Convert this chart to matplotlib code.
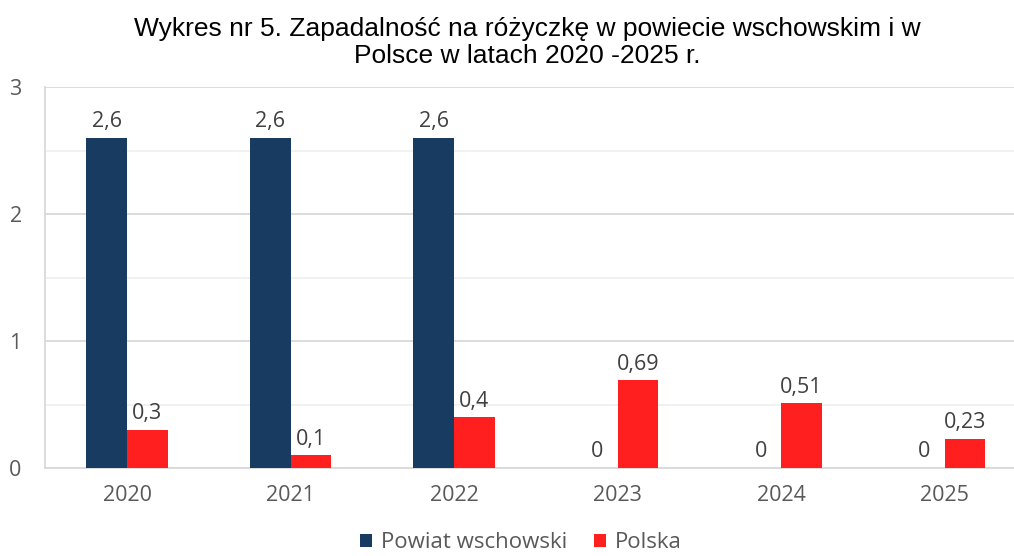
import matplotlib
matplotlib.use("Agg")
import matplotlib.pyplot as plt
import numpy as np

years = ["2020", "2021", "2022", "2023", "2024", "2025"]
powiat = [2.6, 2.6, 2.6, 0, 0, 0]
polska = [0.3, 0.1, 0.4, 0.69, 0.51, 0.23]
series_names = ["Powiat wschowski", "Polska"]
title = "Wykres nr 5. Zapadalność na różyczkę w powiecie wschowskim i w\nPolsce w latach 2020 -2025 r."

plt.rcParams['font.family'] = ['Open Sans', 'DejaVu Sans']

W, H = 1014, 556
fig = plt.figure(figsize=(W/100, H/100), dpi=100)
left, right, top, bottom = 45.25, 1026.25, 87, 468
ax = fig.add_axes([left/W, 1 - bottom/H, (right-left)/W, (bottom-top)/H])

x = np.arange(len(years))
w = 0.25
c1, c2 = "#173b61", "#ff1f1f"
b1 = ax.bar(x - w/2, powiat, w, color=c1, label=series_names[0], zorder=3)
b2 = ax.bar(x + w/2, polska, w, color=c2, label=series_names[1], zorder=3)

def fmt(v):
    return ("%g" % v).replace(".", ",")

for bars, vals in ((b1, powiat), (b2, polska)):
    for r, v in zip(bars, vals):
        ax.annotate(fmt(v), (r.get_x() + r.get_width()/2, v), xytext=(0, 4),
                    textcoords="offset points", ha="center", va="bottom",
                    fontsize=15.5, color="#404040")

ax.set_xlim(-0.5, len(years) - 0.5)
ax.set_ylim(0, 3)
ax.set_yticks([0, 1, 2, 3])
ax.set_yticks([0.5, 1.5, 2.5], minor=True)
ax.set_xticks(x)
ax.set_xticklabels(years)
ax.grid(axis="y", which="major", color="#d9d9d9", linewidth=1.3, zorder=0)
ax.grid(axis="y", which="minor", color="#f0f0f0", linewidth=1.3, zorder=0)
ax.tick_params(axis="both", which="both", length=0, labelsize=15.5, labelcolor="#595959")
ax.tick_params(axis="x", pad=12)
ax.tick_params(axis="y", pad=17)
for s in ["top", "right"]:
    ax.spines[s].set_visible(False)
ax.spines["left"].set_color("#d9d9d9")
ax.spines["bottom"].set_color("#d9d9d9")
ax.spines["left"].set_linewidth(1.3)
ax.spines["bottom"].set_linewidth(1.3)

fig.text(527/W, 1 - 17/H, title, ha="center", va="top", fontsize=19,
         family=['Liberation Sans', 'DejaVu Sans'], color="#000000", linespacing=1.17)

leg = fig.legend(loc="center", bbox_to_anchor=(521/W, 1 - 543/H), ncol=2, frameon=False,
                 fontsize=16, handlelength=0.55, handleheight=0.55, handletextpad=0.4,
                 columnspacing=1.2, labelcolor="#595959", borderaxespad=0, borderpad=0)

fig.savefig("out.png", dpi=100)
